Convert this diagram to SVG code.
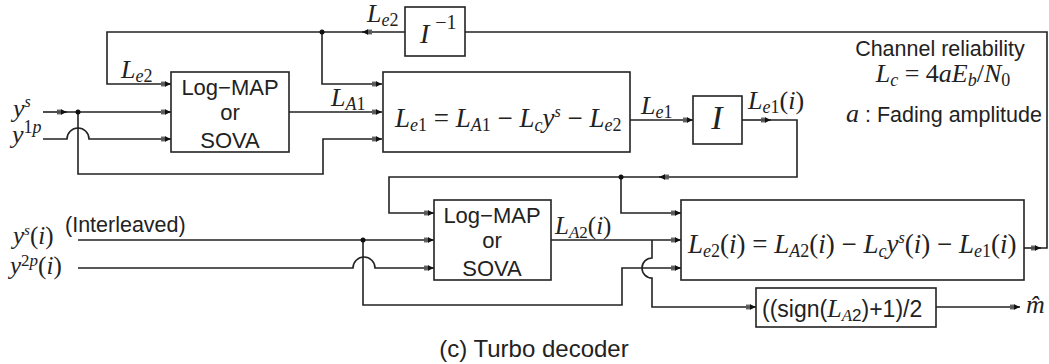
<svg xmlns="http://www.w3.org/2000/svg" width="1049" height="364" viewBox="0 0 1049 364">
<style>
.box{fill:#fff;stroke:#222;stroke-width:1.6}
.w{fill:none;stroke:#222;stroke-width:1.6}
.s{font-family:"Liberation Sans",Arial,sans-serif;fill:#222}
.m{font-family:"Liberation Serif","Times New Roman",serif;font-style:italic;fill:#222}
.n{font-style:normal}
.dot{fill:#111}
</style>
<defs>
<marker id="a" viewBox="0 0 10 6" refX="10" refY="3" markerWidth="10" markerHeight="6" orient="auto" markerUnits="userSpaceOnUse">
<path d="M0,1.2 H5 M0,4.8 H5" stroke="#222" stroke-width="1"/>
<path d="M4,0.3 L10,3 L4,5.7 Z" fill="#111"/>
</marker>
</defs>
<rect width="1049" height="364" fill="#fff"/>

<g id="connectors">
<path class="w" d="M1024,248 H1041" marker-end="url(#a)"/>
<path class="w" d="M1040,248 H1047 V32 H362" marker-end="url(#a)"/>
<path class="w" d="M363,32 H107 V84 H171" marker-end="url(#a)"/>
<path class="w" d="M322,32 V84 H382" marker-end="url(#a)"/>
<path class="w" d="M43,112 H67" marker-end="url(#a)"/>
<path class="w" d="M66,112 H171" marker-end="url(#a)"/>
<path class="w" d="M78,112 V174 H323 V139 H382" marker-end="url(#a)"/>
<path class="w" d="M43,139 H67 A11,11 0 0 1 89,139 H171" marker-end="url(#a)"/>
<path class="w" d="M289,112 H382" marker-end="url(#a)"/>
<path class="w" d="M630,120 H693" marker-end="url(#a)"/>
<path class="w" d="M742,120 H771" marker-end="url(#a)"/>
<path class="w" d="M770,120 H797 V177 H659" marker-end="url(#a)"/>
<path class="w" d="M660,177 H389 V213 H434" marker-end="url(#a)"/>
<path class="w" d="M621,177 V213 H681" marker-end="url(#a)"/>
<path class="w" d="M78,240 H434" marker-end="url(#a)"/>
<path class="w" d="M363,240 V305 H622 V268 H681" marker-end="url(#a)"/>
<path class="w" d="M78,268 H353 A11,11 0 0 1 375,268 H434" marker-end="url(#a)"/>
<path class="w" d="M551,240 H681" marker-end="url(#a)"/>
<path class="w" d="M652,240 V258 A10,10 0 0 0 652,278 V307 H756" marker-end="url(#a)"/>
<path class="w" d="M936,307 H1020" marker-end="url(#a)"/>
<circle class="dot" cx="322" cy="32" r="2.5"/>
<circle class="dot" cx="78" cy="112" r="2.5"/>
<circle class="dot" cx="621" cy="177" r="2.5"/>
<circle class="dot" cx="363" cy="240" r="2.5"/>
</g>

<g id="interleaver-inv">
<rect class="box" x="405" y="7" width="60" height="49"/>
<text class="m" x="420" y="43" font-size="28">I<tspan class="n" font-size="20" dx="6" dy="-14">−1</tspan></text>
</g>

<g id="decoder1">
<rect class="box" x="171" y="72" width="118" height="80"/>
<text class="s" font-size="22" text-anchor="middle"><tspan x="230" y="95">Log−MAP</tspan><tspan x="230" y="120">or</tspan><tspan x="230" y="148">SOVA</tspan></text>
</g>

<g id="ext1">
<rect class="box" x="383" y="72" width="247" height="80"/>
<text class="m" x="395" y="127" font-size="27">L<tspan font-size="18" dy="4">e</tspan><tspan class="n" font-size="18">1</tspan><tspan class="n" dy="-4"> = </tspan>L<tspan font-size="18" dy="4">A</tspan><tspan class="n" font-size="18">1</tspan><tspan class="n" dy="-4"> − </tspan>L<tspan font-size="18" dy="4">c</tspan><tspan dy="-4">y</tspan><tspan font-size="16" dy="-10">s</tspan><tspan class="n" dy="10"> − </tspan>L<tspan font-size="18" dy="4">e</tspan><tspan class="n" font-size="18">2</tspan></text>
</g>

<g id="interleaver">
<rect class="box" x="693" y="96" width="49" height="48"/>
<text class="m" x="717" y="129" font-size="34" text-anchor="middle">I</text>
</g>

<g id="decoder2">
<rect class="box" x="434" y="200" width="117" height="80"/>
<text class="s" font-size="22" text-anchor="middle"><tspan x="492" y="223">Log−MAP</tspan><tspan x="492" y="248">or</tspan><tspan x="492" y="276">SOVA</tspan></text>
</g>

<g id="ext2">
<rect class="box" x="681" y="200" width="343" height="80"/>
<text class="m" x="688" y="253" font-size="27">L<tspan font-size="18" dy="4">e</tspan><tspan class="n" font-size="18">2</tspan><tspan class="n" dy="-4">(</tspan>i<tspan class="n">) = </tspan>L<tspan font-size="18" dy="4">A</tspan><tspan class="n" font-size="18">2</tspan><tspan class="n" dy="-4">(</tspan>i<tspan class="n">) − </tspan>L<tspan font-size="18" dy="4">c</tspan><tspan dy="-4">y</tspan><tspan font-size="16" dy="-10">s</tspan><tspan class="n" dy="10">(</tspan>i<tspan class="n">) − </tspan>L<tspan font-size="18" dy="4">e</tspan><tspan class="n" font-size="18">1</tspan><tspan class="n" dy="-4">(</tspan>i<tspan class="n">)</tspan></text>
</g>

<g id="hard-decision">
<rect class="box" x="756" y="288" width="180" height="39"/>
<text class="s" x="762" y="317" font-size="23">((sign(<tspan class="m" font-size="26">L</tspan><tspan class="m" font-size="17" dy="4">A</tspan><tspan font-size="17">2</tspan><tspan dy="-4">)+1)/2</tspan></text>
</g>

<g id="labels">
<text class="m" x="367" y="22" font-size="26">L<tspan font-size="18" dy="4">e</tspan><tspan class="n" font-size="18">2</tspan></text>
<text class="m" x="121" y="78" font-size="26">L<tspan font-size="18" dy="4">e</tspan><tspan class="n" font-size="18">2</tspan></text>
<text class="m" x="331" y="106" font-size="26">L<tspan font-size="18" dy="4">A</tspan><tspan class="n" font-size="18">1</tspan></text>
<text class="m" x="641" y="114" font-size="26">L<tspan font-size="18" dy="4">e</tspan><tspan class="n" font-size="18">1</tspan></text>
<text class="m" x="748" y="109" font-size="26">L<tspan font-size="18" dy="4">e</tspan><tspan class="n" font-size="18">1</tspan><tspan class="n" dy="-4">(</tspan>i<tspan class="n">)</tspan></text>
<text class="m" x="13" y="117" font-size="26">y<tspan font-size="16" dy="-10">s</tspan></text>
<text class="m" x="12" y="143" font-size="26">y<tspan class="n" font-size="18" dy="-10">1</tspan><tspan font-size="18">p</tspan></text>
<text class="m" x="13" y="244" font-size="25">y<tspan font-size="15" dy="-9">s</tspan><tspan class="n" dy="9">(</tspan>i<tspan class="n">)</tspan></text>
<text class="s" x="65" y="232" font-size="21.5">(Interleaved)</text>
<text class="m" x="10" y="274" font-size="25">y<tspan class="n" font-size="17" dy="-8">2</tspan><tspan font-size="17">p</tspan><tspan class="n" dy="8">(</tspan>i<tspan class="n">)</tspan></text>
<text class="m" x="555" y="234" font-size="25">L<tspan font-size="17" dy="4">A</tspan><tspan class="n" font-size="17">2</tspan><tspan class="n" dy="-4">(</tspan>i<tspan class="n">)</tspan></text>
<text class="m" x="1026" y="313" font-size="26">m̂</text>
<text class="s" x="940" y="56" font-size="21.5" text-anchor="middle">Channel reliability</text>
<text class="m" x="943" y="82" font-size="26" text-anchor="middle">L<tspan font-size="18" dy="4">c</tspan><tspan class="n" dy="-4"> = 4</tspan>aE<tspan font-size="18" dy="4">b</tspan><tspan class="n" dy="-4">/</tspan>N<tspan class="n" font-size="18" dy="4">0</tspan></text>
<text class="s" x="846" y="122" font-size="21.5"><tspan class="m" font-size="26">a</tspan> : Fading amplitude</text>
<text class="s" x="534" y="357" font-size="24" text-anchor="middle">(c) Turbo decoder</text>
</g>
</svg>
